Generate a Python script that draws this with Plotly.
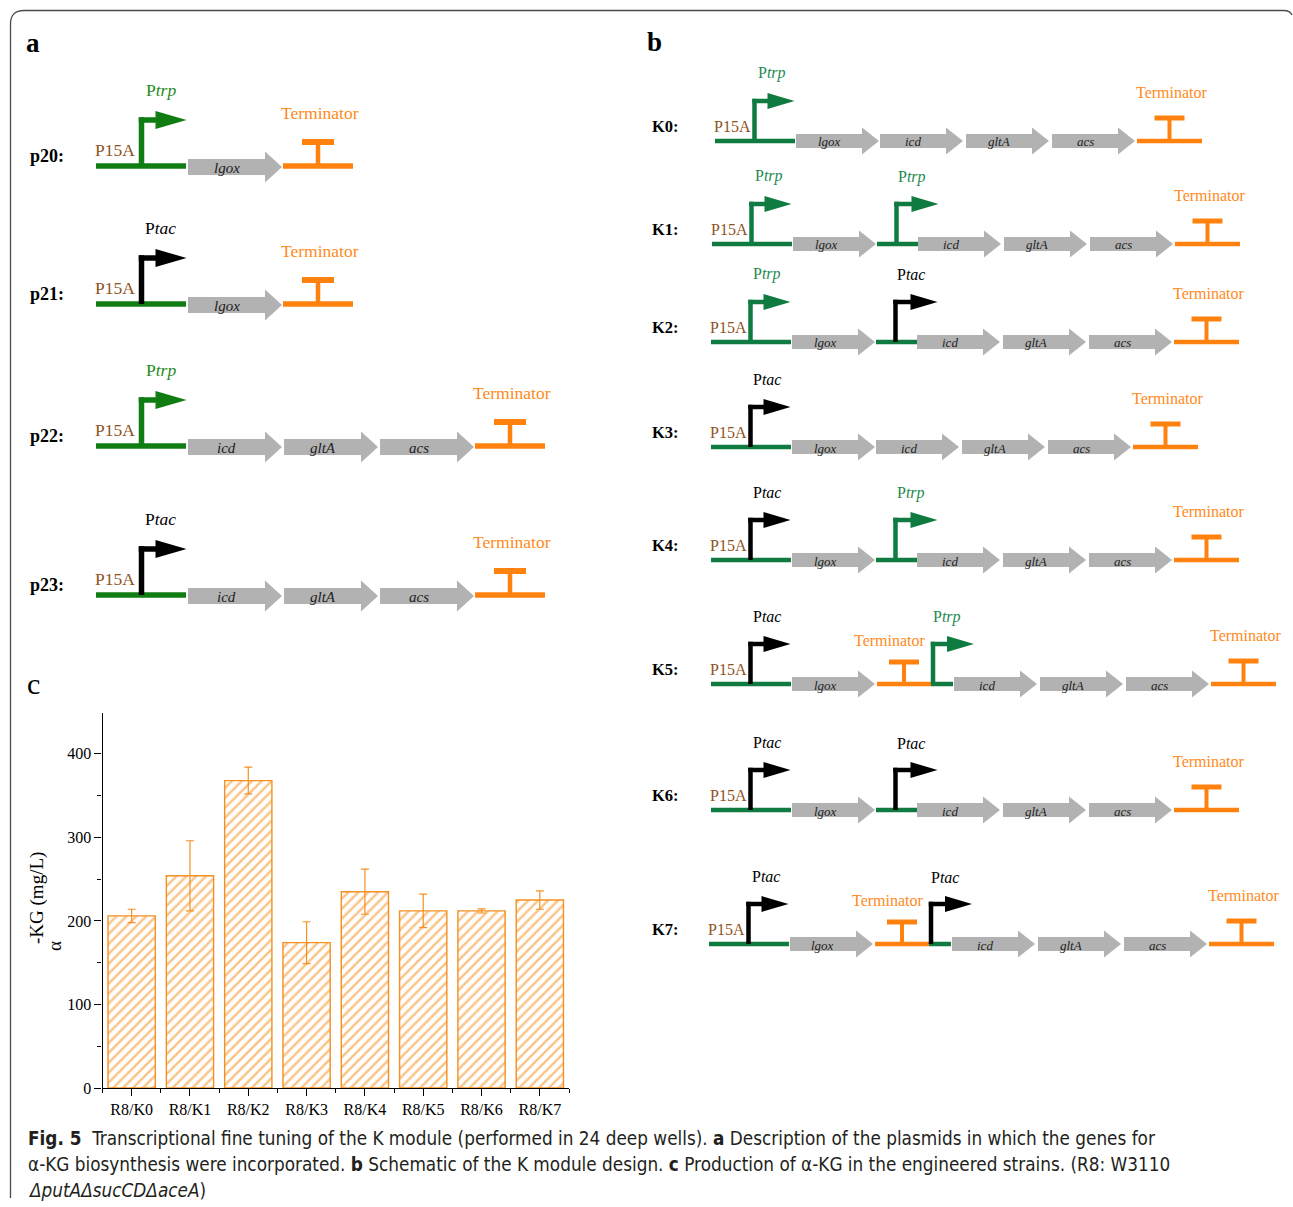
import plotly.graph_objects as go

W, H = 1293, 1207
# vertical extent used to place items in paper units
H_PLACE = 1198

# ---------------- data ----------------
# panel c: alpha-KG titre of each strain
strains = ["R8/K0", "R8/K1", "R8/K2", "R8/K3", "R8/K4", "R8/K5", "R8/K6", "R8/K7"]
akg_mg_per_l = [206, 254, 368, 174, 235, 212, 212, 225]
akg_sd = [8, 42, 16, 25, 27, 20, 2.5, 11]
y_tick_values = [0, 100, 200, 300, 400]

# panel a: plasmids
plasmid_names = ["p20", "p21", "p22", "p23"]
plasmid_promoters = ["trp", "tac", "trp", "tac"]
plasmid_genes = [["lgox"], ["lgox"], ["icd", "gltA", "acs"], ["icd", "gltA", "acs"]]

# panel b: K module designs
k_names = ["K0", "K1", "K2", "K3", "K4", "K5", "K6", "K7"]
k_first_promoter = ["trp", "trp", "trp", "tac", "tac", "tac", "tac", "tac"]
k_second_promoter = [None, "trp", "tac", None, "trp", "trp", "tac", "tac"]
k_insulated = [False, False, False, False, False, True, False, True]
k_genes_first = ["lgox"]
k_genes_rest = ["icd", "gltA", "acs"]

# ---------------- styles ----------------
SERIF = "Liberation Serif, Times New Roman, serif"
CAPTION_FONT = "Liberation Sans Narrow, DejaVu Sans Condensed, Roboto, sans-serif"
GREEN_A = "#0f7d12"
GREEN_B = "#0f7b40"
GREEN_TXT_A = "#1c8c1c"
GREEN_TXT_B = "#1e8a50"
ORANGE = "#ff820f"
ORANGE_TXT = "#ff8a1c"
BROWN = "#8f521d"
GREY = "#b2b2b2"
BAR_ORANGE = "#f58f22"

shapes = []
annotations = []


def X(x):
    return x / W


def Y(y):
    return 1 - y / H_PLACE


def rect(x0, y0, x1, y1, color):
    shapes.append(dict(type="rect", xref="paper", yref="paper",
                       x0=X(x0), y0=Y(y0), x1=X(x1), y1=Y(y1),
                       fillcolor=color, line=dict(width=0), layer="above"))


def poly(points, color):
    d = "M " + " L ".join(f"{X(px):.6f},{Y(py):.6f}" for px, py in points) + " Z"
    shapes.append(dict(type="path", xref="paper", yref="paper", path=d,
                       fillcolor=color, line=dict(width=0), layer="above"))


def text(x, y, s, size, color="black", xanchor="center", family=SERIF, angle=0):
    annotations.append(dict(x=X(x), y=Y(y), xref="paper", yref="paper", text=s,
                            showarrow=False, xanchor=xanchor, yanchor="middle",
                            textangle=angle, font=dict(family=family, size=size, color=color)))


def gene(x0, x1, yc, name, body, head_h, head_len, fsize):
    xh = x1 - head_len
    poly([(x0, yc - body / 2), (xh, yc - body / 2), (xh, yc - head_h / 2), (x1, yc),
          (xh, yc + head_h / 2), (xh, yc + body / 2), (x0, yc + body / 2)], GREY)
    text((x0 + xh) / 2, yc + 1, f"<i>{name}</i>", fsize, "#222222")


def promoter(px, base, height, length, head_len, head_half, t, color):
    top = base - height
    rect(px - t / 2, top - t / 2, px + t / 2, base, color)
    hs = px + length - head_len
    rect(px - t / 2, top - t / 2, hs + 1, top + t / 2, color)
    poly([(hs, top - head_half), (px + length, top), (hs, top + head_half)], color)


def terminator(x0, x1, base, t, rise, bar_w, bar_t, stem_t):
    cx = (x0 + x1) / 2
    rect(x0, base - t / 2, x1, base + t / 2, ORANGE)
    rect(cx - stem_t / 2, base - rise, cx + stem_t / 2, base, ORANGE)
    rect(cx - bar_w / 2, base - rise - bar_t / 2, cx + bar_w / 2, base - rise + bar_t / 2, ORANGE)
    return cx


def prom_label(kind):
    return f"P<i>{kind}</i>"


# ---------------- frame ----------------
shapes.append(dict(type="path", xref="paper", yref="paper",
                   path=(f"M {X(10.5)},0 L {X(10.5)},{Y(24)} "
                         f"Q {X(10.5)},{Y(10.5)} {X(24)},{Y(10.5)} L {X(1284)},{Y(10.5)} "
                         f"Q {X(1290)},{Y(10.5)} {X(1292)},{Y(15)}"),
                   line=dict(color="#4a4a4a", width=1.3)))

# ---------------- panel a ----------------
text(33, 43, "<b>a</b>", 27)
rows_a = [166, 304, 446, 595]
for name, prom, genes, base in zip(plasmid_names, plasmid_promoters, plasmid_genes, rows_a):
    green = GREEN_A
    pcol = green if prom == "trp" else "black"
    ptxt = GREEN_TXT_A if prom == "trp" else "black"
    text(28, base - 10, f"<b>{name}:</b>", 18, xanchor="left")
    rect(96, base - 2.75, 186, base + 2.75, green)
    px = 141.5
    promoter(px, base, 46, 45, 31, 9, 5.5, pcol)
    text(px - 5, base - 16, "P15A", 17.5, BROWN, xanchor="right")
    text(px + 19, base - 76, prom_label(prom), 17.5, ptxt)
    x = 188
    for g in genes:
        gene(x, x + 94, base + 1, g, 16, 31, 17, 15)
        x += 96
    cx = terminator(x - 1, x + 69, base, 5.5, 24, 32, 6, 4.5)
    text(cx + 2, base - 53, "Terminator", 17.5, ORANGE_TXT)

# ---------------- panel b ----------------
text(655, 42, "<b>b</b>", 27)
rows_b = [141, 244, 342, 447, 560, 684, 810, 944]
starts_b = [715, 712, 711, 711, 711, 711, 711, 709]
for i, name in enumerate(k_names):
    base = rows_b[i]
    x0 = starts_b[i]
    p1 = k_first_promoter[i]
    p2 = k_second_promoter[i]
    text(650, base - 15, f"<b>{name}:</b>", 16.5, xanchor="left")
    rect(x0, base - 2.25, x0 + 80, base + 2.25, GREEN_B)
    px = x0 + 39.5
    promoter(px, base, 40, 40, 27, 8, 4.5, GREEN_B if p1 == "trp" else "black")
    text(px - 2, base - 15, "P15A", 16, BROWN, xanchor="right")
    text(px + 17, base - 68, prom_label(p1), 16, GREEN_TXT_B if p1 == "trp" else "black")
    x = x0 + 81
    for g in k_genes_first:
        gene(x, x + 83, base, g, 14, 27, 17, 13)
        x += 84
    if p2 is not None:
        if k_insulated[i]:
            cx = terminator(x + 1, x + 55, base, 4.5, 22, 30, 5, 4)
            text(cx - 14, base - 44, "Terminator", 16, ORANGE_TXT)
            x += 55
            rect(x, base - 2.25, x + 22, base + 2.25, GREEN_B)
            qx = x + 2
            promoter(qx, base, 40, 41, 27, 8, 4.5, GREEN_B if p2 == "trp" else "black")
            text(qx + 14, base - 67, prom_label(p2), 16, GREEN_TXT_B if p2 == "trp" else "black")
            x += 23
        else:
            rect(x, base - 2.25, x + 41, base + 2.25, GREEN_B)
            qx = x + 19.5
            promoter(qx, base, 40, 42, 27, 8, 4.5, GREEN_B if p2 == "trp" else "black")
            text(qx + 15, base - 67, prom_label(p2), 16, GREEN_TXT_B if p2 == "trp" else "black")
            x += 41
    for g in k_genes_rest:
        gene(x, x + 83, base, g, 14, 27, 17, 13)
        x += 86
    cx = terminator(x - 1, x + 64, base, 4.5, 23, 30, 5, 4)
    text(cx + 2, base - 49, "Terminator", 16, ORANGE_TXT)

# ---------------- panel c ----------------
text(33, 683, "c", 30)
text(37, 898, "-KG (mg/L)", 19, angle=-90)
text(54, 946, "\u03b1", 19, angle=-90)

fig = go.Figure()
fig.add_trace(go.Bar(
    x=list(range(len(strains))), y=akg_mg_per_l, width=0.81,
    marker=dict(color="white", line=dict(color=BAR_ORANGE, width=1.4),
                pattern=dict(shape="/", fgcolor="#f38a14", bgcolor="white", size=7, solidity=0.36)),
    error_y=dict(type="data", array=akg_sd, color=BAR_ORANGE, thickness=1.2, width=4),
    showlegend=False,
))

axis_font = dict(family=SERIF, size=16, color="black")
fig.update_layout(
    width=W, height=H, autosize=False,
    margin=dict(l=0, r=0, t=0, b=0),
    paper_bgcolor="white", plot_bgcolor="rgba(0,0,0,0)",
    shapes=shapes, annotations=annotations,
    xaxis=dict(domain=[X(102.5), X(569)], range=[-0.5, 7.5],
               tickmode="array", tickvals=list(range(len(strains))), ticktext=strains,
               ticks="outside", ticklen=7, tickwidth=1.2, tickcolor="black",
               minor=dict(ticks="outside", ticklen=4, tick0=0.5, dtick=1, tickcolor="black", tickwidth=1.2),
               showline=True, linecolor="black", linewidth=1.3,
               showgrid=False, zeroline=False, tickfont=axis_font, fixedrange=True),
    yaxis=dict(domain=[Y(1088), Y(712.5)], range=[0, 449.5],
               tickmode="array", tickvals=y_tick_values,
               ticks="outside", ticklen=7, tickwidth=1.2, tickcolor="black",
               minor=dict(ticks="outside", ticklen=4, tick0=0, dtick=50, tickcolor="black", tickwidth=1.2),
               showline=True, linecolor="black", linewidth=1.3,
               showgrid=False, zeroline=False, tickfont=axis_font, fixedrange=True),
)

# ---------------- caption ----------------
cap = [
    "<b>Fig. 5</b>  Transcriptional fine tuning of the K module (performed in 24 deep wells). "
    "<b>a</b> Description of the plasmids in which the genes for",
    "\u03b1-KG biosynthesis were incorporated. <b>b</b> Schematic of the K module design. "
    "<b>c</b> Production of \u03b1-KG in the engineered strains. (R8: W3110",
    "<i>\u0394putA\u0394sucCD\u0394aceA</i>)",
]
for k, line in enumerate(cap):
    fig.add_annotation(x=X(26), y=Y(1138 + 26 * k), xref="paper", yref="paper", text=line,
                       showarrow=False, xanchor="left", yanchor="middle",
                       font=dict(family=CAPTION_FONT, size=18.8, color="#231f20"))

fig.write_html("out.html", config={"responsive": False})
